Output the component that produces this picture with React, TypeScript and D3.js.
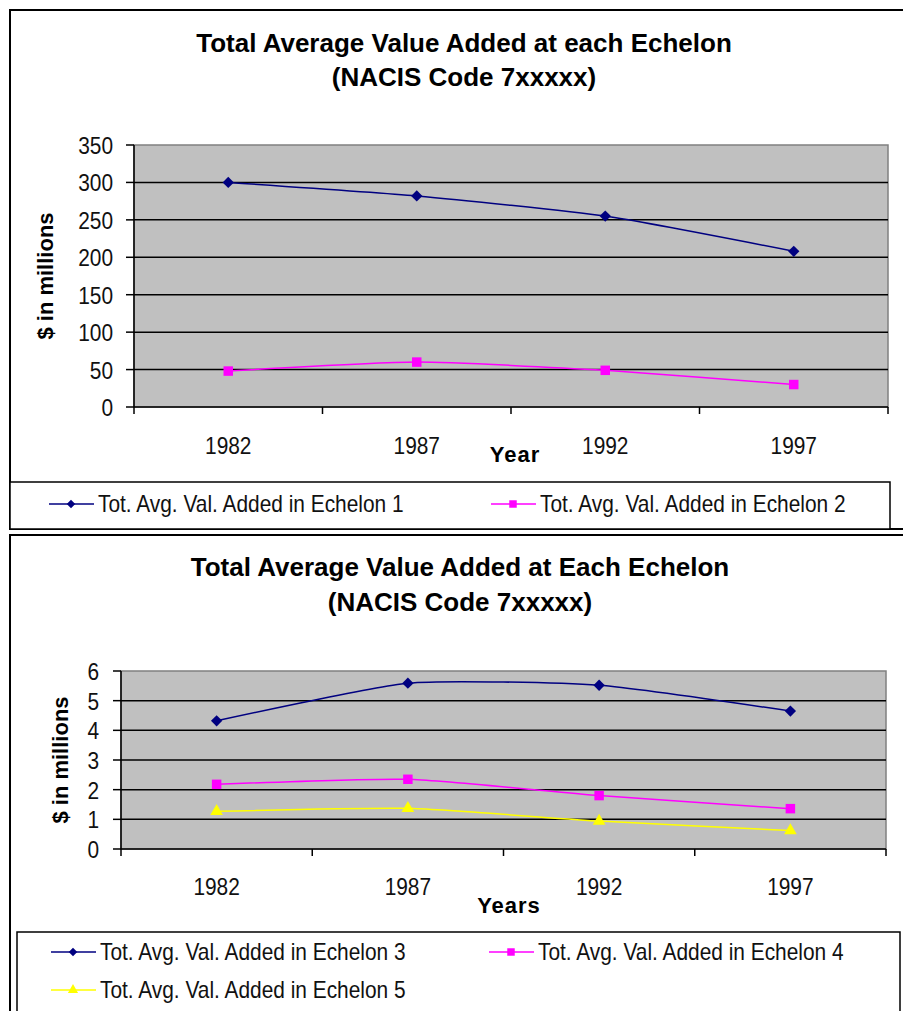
import React from 'react';
import * as d3 from 'd3';

// values
const years = ['1982', '1987', '1992', '1997'];
const echelon1 = [300, 282, 255, 208];
const echelon2 = [48, 60, 49, 30];
const echelon3 = [4.32, 5.59, 5.52, 4.65];
const echelon4 = [2.18, 2.35, 1.8, 1.36];
const echelon5 = [1.27, 1.37, 0.94, 0.62];
const topTicks = [0, 50, 100, 150, 200, 250, 300, 350];
const bottomTicks = [0, 1, 2, 3, 4, 5, 6];

const FONT = '"Liberation Sans", Arial, sans-serif';

type Series = { name: string; values: number[]; color: string; marker: 'diamond' | 'square' | 'triangle' };

function markerPath(kind: string, big: boolean) {
  if (kind === 'diamond') return d3.symbol(d3.symbolSquare, big ? 64 : 36)();
  if (kind === 'square') return d3.symbol(d3.symbolSquare, big ? 90 : 56)();
  return d3.symbol(d3.symbolTriangle, big ? 70 : 45)();
}

function Marker({ s, x, y, big }: { s: Series; x: number; y: number; big: boolean }) {
  const rot = s.marker === 'diamond' ? ' rotate(45)' : '';
  return <path d={markerPath(s.marker, big) as string} transform={`translate(${x},${y})${rot}`} fill={s.color} />;
}

// the old Excel font is narrow and tall, so squeeze Liberation Sans a little
function NarrowText({ x, y, anchor, children }: { x: number; y: number; anchor?: string; children: React.ReactNode }) {
  return (
    <text transform={`translate(${x},${y}) scale(0.87,1)`} textAnchor={anchor || 'start'} fontSize={24} fill="#111">
      {children}
    </text>
  );
}

function Chart(props: {
  frameY: number;
  frameH: number;
  titles: string[];
  titleX: number;
  titleY: number[];
  plot: { x0: number; x1: number; y0: number; y1: number };
  domainMax: number;
  ticks: number[];
  tickLabelX: number;
  yLabelX: number;
  xLabel: string;
  xLabelPos: [number, number];
  yearY: number;
  series: Series[];
  legend: { box: [number, number, number, number]; items: { x: number; y: number }[] };
}) {
  const { plot, series } = props;
  const x = d3.scaleBand().domain(years).range([plot.x0, plot.x1]);
  const y = d3.scaleLinear().domain([0, props.domainMax]).range([plot.y1, plot.y0]);
  const line = d3
    .line<number>()
    .x((_, i) => (x(years[i]) as number) + x.bandwidth() / 2)
    .y((d) => y(d))
    .curve(d3.curveCardinal.tension(0.45));
  const boundaries = years.map((yr) => x(yr) as number).concat([plot.x1]);
  const [bx, by, bw, bh] = props.legend.box;

  return (
    <g fontFamily={FONT}>
      <rect x={10} y={props.frameY} width={905} height={props.frameH} fill="#fff" stroke="#000" strokeWidth={2} />
      {props.titles.map((t, i) => (
        <text key={t} x={props.titleX} y={props.titleY[i]} textAnchor="middle" fontSize={26} fontWeight="bold">
          {t}
        </text>
      ))}
      <rect x={plot.x0} y={plot.y0} width={plot.x1 - plot.x0} height={plot.y1 - plot.y0} fill="#c0c0c0" stroke="#808080" strokeWidth={1.5} />
      {props.ticks.map((t) => (
        <g key={t}>
          {t > 0 && t < props.domainMax && (
            <line x1={plot.x0} x2={plot.x1} y1={y(t)} y2={y(t)} stroke="#000" strokeWidth={1.5} />
          )}
          <line x1={plot.x0 - 8} x2={plot.x0} y1={y(t)} y2={y(t)} stroke="#000" strokeWidth={1.5} />
          <NarrowText x={props.tickLabelX} y={y(t) + 9} anchor="end">
            {t}
          </NarrowText>
        </g>
      ))}
      <line x1={plot.x0} x2={plot.x0} y1={plot.y0} y2={plot.y1} stroke="#000" strokeWidth={1.5} />
      <line x1={plot.x0} x2={plot.x1} y1={plot.y1} y2={plot.y1} stroke="#000" strokeWidth={1.5} />
      {boundaries.map((bxv, i) => (
        <line key={i} x1={bxv} x2={bxv} y1={plot.y1} y2={plot.y1 + 7} stroke="#000" strokeWidth={1.5} />
      ))}
      {years.map((yr) => (
        <NarrowText key={yr} x={(x(yr) as number) + x.bandwidth() / 2} y={props.yearY} anchor="middle">
          {yr}
        </NarrowText>
      ))}
      <text x={props.xLabelPos[0]} y={props.xLabelPos[1]} textAnchor="middle" fontSize={22} fontWeight="bold" letterSpacing={1}>
        {props.xLabel}
      </text>
      <text
        transform={`translate(${props.yLabelX},${(plot.y0 + plot.y1) / 2}) rotate(-90)`}
        textAnchor="middle"
        fontSize={22}
        fontWeight="bold"
      >
        $ in millions
      </text>
      {series.map((s) => (
        <g key={s.name}>
          <path d={line(s.values) as string} fill="none" stroke={s.color} strokeWidth={1.5} />
          {s.values.map((v, i) => (
            <Marker key={i} s={s} x={(x(years[i]) as number) + x.bandwidth() / 2} y={y(v)} big />
          ))}
        </g>
      ))}
      <rect x={bx} y={by} width={bw} height={bh} fill="#fff" stroke="#000" strokeWidth={1.5} />
      {series.map((s, i) => {
        const it = props.legend.items[i];
        return (
          <g key={s.name}>
            <line x1={it.x} x2={it.x + 45} y1={it.y - 8} y2={it.y - 8} stroke={s.color} strokeWidth={1.5} />
            <Marker s={s} x={it.x + 22} y={it.y - 8} big={false} />
            <NarrowText x={it.x + 49} y={it.y}>
              {s.name}
            </NarrowText>
          </g>
        );
      })}
    </g>
  );
}

export default function App() {
  const topSeries: Series[] = [
    { name: 'Tot. Avg. Val. Added in Echelon 1', values: echelon1, color: '#000080', marker: 'diamond' },
    { name: 'Tot. Avg. Val. Added in Echelon 2', values: echelon2, color: '#ff00ff', marker: 'square' },
  ];
  const bottomSeries: Series[] = [
    { name: 'Tot. Avg. Val. Added in Echelon 3', values: echelon3, color: '#000080', marker: 'diamond' },
    { name: 'Tot. Avg. Val. Added in Echelon 4', values: echelon4, color: '#ff00ff', marker: 'square' },
    { name: 'Tot. Avg. Val. Added in Echelon 5', values: echelon5, color: '#ffff00', marker: 'triangle' },
  ];
  return (
    <svg width={903} height={1011} style={{ position: 'absolute', left: 0, top: 0, background: '#fff' }}>
      <Chart
        frameY={10}
        frameH={519}
        titles={['Total Average Value Added at each Echelon', '(NACIS Code 7xxxxx)']}
        titleX={464}
        titleY={[52, 86]}
        plot={{ x0: 134, x1: 888, y0: 145, y1: 407 }}
        domainMax={350}
        ticks={topTicks}
        tickLabelX={113}
        yLabelX={53}
        xLabel="Year"
        xLabelPos={[515, 462]}
        yearY={454}
        series={topSeries}
        legend={{ box: [10, 482, 880, 47], items: [{ x: 49, y: 512 }, { x: 491, y: 512 }] }}
      />
      <Chart
        frameY={535}
        frameH={490}
        titles={['Total Average Value Added at Each Echelon', '(NACIS Code 7xxxxx)']}
        titleX={460}
        titleY={[576, 611]}
        plot={{ x0: 121, x1: 886, y0: 671, y1: 849 }}
        domainMax={6}
        ticks={bottomTicks}
        tickLabelX={99}
        yLabelX={68}
        xLabel="Years"
        xLabelPos={[509, 913]}
        yearY={895}
        series={bottomSeries}
        legend={{ box: [17, 932, 883, 90], items: [{ x: 51, y: 960 }, { x: 489, y: 960 }, { x: 51, y: 998 }] }}
      />
    </svg>
  );
}
